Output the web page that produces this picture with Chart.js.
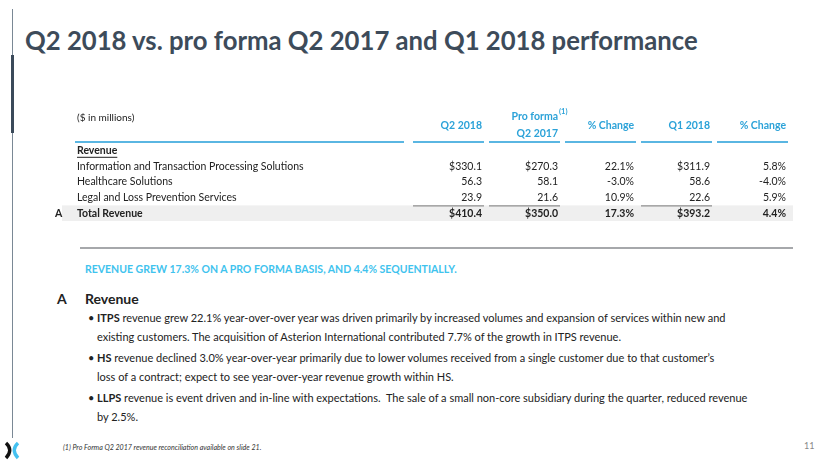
<!DOCTYPE html>
<html lang="en">
<head>
    <meta charset="UTF-8">
    <title>Q2 2018 vs. pro forma Q2 2017 and Q1 2018 performance</title>
    <script src="https://cdn.jsdelivr.net/npm/chart.js"></script>
    <style>
        html, body { margin: 0; padding: 0; background: #fff; }
        body { width: 830px; height: 467px; position: relative; overflow: hidden; font-family: Lato, "Open Sans", sans-serif; color: #222; }
        .abs { position: absolute; white-space: nowrap; }
        #title { left: 25px; top: 25px; font-size: 25.7px; font-weight: bold; color: #3d4b5a; }
        #railThin { left: 12px; top: 9px; width: 1px; height: 429px; background: #7a8895; }
        #railThick { left: 11px; top: 55px; width: 3px; height: 78px; background: #3b4a5a; }
        #sep { left: 80px; top: 247px; width: 713px; height: 2px; background: #a6a8ab; }
        #headline { left: 85px; top: 263px; font-size: 10.5px; font-weight: bold; color: #3fc3ee; }
        #secA { left: 57px; top: 290px; font-size: 14px; font-weight: bold; }
        #secRev { left: 85px; top: 290px; font-size: 14px; font-weight: bold; }
        .ln { left: 97px; font-size: 11px; }
        .dot { left: 88px; font-size: 11px; }
        #foot { left: 63px; top: 443px; font-size: 7.1px; font-style: italic; color: #333; }
        #page { left: 804px; top: 440px; font-size: 9px; color: #888; }
        #tbl { position: absolute; left: 0; top: 100px; }
    </style>
</head>
<body>
    <div id="railThin" class="abs"></div>
    <div id="railThick" class="abs"></div>
    <div id="title" class="abs">Q2 2018 vs. pro forma Q2 2017 and Q1 2018 performance</div>

    <canvas id="tbl" width="830" height="125"></canvas>

    <div id="sep" class="abs"></div>
    <div id="headline" class="abs">REVENUE GREW 17.3% ON A PRO FORMA BASIS, AND 4.4% SEQUENTIALLY.</div>
    <div id="secA" class="abs">A</div>
    <div id="secRev" class="abs">Revenue</div>

    <div class="abs dot" style="top:311px">•</div>
    <div class="abs ln" style="top:311px"><b>ITPS</b> revenue grew 22.1% year-over-over year was driven primarily by increased volumes and expansion of services within new and</div>
    <div class="abs ln" style="top:330px">existing customers. The acquisition of Asterion International contributed 7.7% of the growth in ITPS revenue.</div>
    <div class="abs dot" style="top:351px">•</div>
    <div class="abs ln" style="top:351px"><b>HS</b> revenue declined 3.0% year-over-year primarily due to lower volumes received from a single customer due to that customer’s</div>
    <div class="abs ln" style="top:370px">loss of a contract; expect to see year-over-year revenue growth within HS.</div>
    <div class="abs dot" style="top:391px">•</div>
    <div class="abs ln" style="top:391px"><b>LLPS</b> revenue is event driven and in-line with expectations.&nbsp; The sale of a small non-core subsidiary during the quarter, reduced revenue</div>
    <div class="abs ln" style="top:410px">by 2.5%.</div>

    <svg class="abs" style="left:0;top:437px" width="24" height="26">
        <path d="M6 6 Q13.5 13 6 21" stroke="#111" stroke-width="3.4" fill="none"/>
        <path d="M18 6 Q10.5 13 18 21" stroke="#45c1f0" stroke-width="3.4" fill="none"/>
    </svg>
    <div id="foot" class="abs">(1) Pro Forma Q2 2017 revenue reconciliation available on slide 21.</div>
    <div id="page" class="abs">11</div>

    <script>
        // table data
        const rowLabels = ['Revenue', 'Information and Transaction Processing Solutions', 'Healthcare Solutions', 'Legal and Loss Prevention Services', 'Total Revenue'];
        const columns = ['Q2 2018', 'Pro forma Q2 2017', '% Change', 'Q1 2018', '% Change'];
        const q2_2018 = [null, 330.1, 56.3, 23.9, 410.4];
        const proForma2017 = [null, 270.3, 58.1, 21.6, 350.0];
        const changeYoY = [null, 22.1, -3.0, 10.9, 17.3];
        const q1_2018 = [null, 311.9, 58.6, 22.6, 393.2];
        const changeSeq = [null, 5.8, -4.0, 5.9, 4.4];

        const seriesList = [q2_2018, proForma2017, changeYoY, q1_2018, changeSeq];
        const isPct = [false, false, true, false, true];
        const totalRow = rowLabels.length - 1;

        const BLUE = '#2ba2d8';
        const LINE_BLUE = '#5ab6e2';

        function fmt(v, col, row) {
            if (isPct[col]) return v.toFixed(1) + '%';
            let s = v.toFixed(1);
            if (row === 1 || row === totalRow) s = '$' + s;
            return s;
        }

        const tablePlugin = {
            id: 'tablePlugin',
            beforeDatasetsDraw(chart) {
                const ctx = chart.ctx;
                const x = chart.scales.x, y = chart.scales.y;
                const colW = x.getPixelForValue(1) - x.getPixelForValue(0);
                const rowH = y.getPixelForValue(1) - y.getPixelForValue(0);
                const totTop = y.getPixelForValue(totalRow) - rowH / 2;
                ctx.save();
                // shaded total row
                ctx.fillStyle = '#efefef';
                ctx.fillRect(62, totTop, 731, rowH);
                // subtotal rules above dollar columns
                ctx.strokeStyle = '#777';
                ctx.lineWidth = 1;
                columns.forEach((c, i) => {
                    if (isPct[i]) return;
                    const cx = x.getPixelForValue(i);
                    ctx.beginPath();
                    ctx.moveTo(cx - colW / 2 + 5, totTop + 0.5);
                    ctx.lineTo(cx + colW / 2, totTop + 0.5);
                    ctx.stroke();
                });
                // header underlines
                ctx.strokeStyle = LINE_BLUE;
                ctx.lineWidth = 2;
                const uy = chart.chartArea.top - 1;
                ctx.beginPath();
                ctx.moveTo(75, uy);
                ctx.lineTo(404, uy);
                columns.forEach((c, i) => {
                    const cx = x.getPixelForValue(i);
                    ctx.moveTo(cx - colW / 2 + 5, uy);
                    ctx.lineTo(cx + colW / 2, uy);
                });
                ctx.stroke();
                ctx.restore();
            },
            afterDatasetsDraw(chart) {
                const ctx = chart.ctx;
                const x = chart.scales.x, y = chart.scales.y;
                const colW = x.getPixelForValue(1) - x.getPixelForValue(0);
                ctx.save();
                ctx.textBaseline = 'middle';

                // header
                ctx.fillStyle = '#222';
                ctx.font = '10px Lato';
                ctx.textAlign = 'left';
                ctx.fillText('($ in millions)', 77, 18);
                ctx.fillStyle = BLUE;
                ctx.font = 'bold 10.5px Lato';
                ctx.textAlign = 'right';
                columns.forEach((c, i) => {
                    const rx = x.getPixelForValue(i) + colW / 2 - 2;
                    if (c.startsWith('Pro forma')) {
                        ctx.fillText('Pro forma', rx, 17);
                        ctx.fillText('Q2 2017', rx, 34);
                        ctx.font = 'bold 7.5px Lato';
                        ctx.textAlign = 'left';
                        ctx.fillText('(1)', rx + 1, 12);
                        ctx.font = 'bold 10.5px Lato';
                        ctx.textAlign = 'right';
                    } else {
                        ctx.fillText(c, rx, 26);
                    }
                });

                // row labels
                ctx.fillStyle = '#222';
                ctx.textAlign = 'left';
                rowLabels.forEach((lab, r) => {
                    const py = y.getPixelForValue(r);
                    const bold = r === 0 || r === totalRow;
                    ctx.font = (bold ? 'bold ' : '') + '10.5px Lato';
                    ctx.fillText(lab, 77, py);
                    if (r === 0) {
                        const w = ctx.measureText(lab).width;
                        ctx.fillRect(77, py + 6, w, 1);
                    }
                });
                ctx.font = 'bold 10.5px Lato';
                ctx.fillText('A', 55, y.getPixelForValue(totalRow));

                // cell values at dataset point positions
                ctx.textAlign = 'right';
                chart.data.datasets.forEach((ds, di) => {
                    const meta = chart.getDatasetMeta(di);
                    meta.data.forEach((pt, k) => {
                        const d = ds.data[k];
                        if (d.v === null) return;
                        ctx.font = (d.y === totalRow ? 'bold ' : '') + '10.5px Lato';
                        ctx.fillText(fmt(d.v, di, d.y), pt.x + colW / 2 - 2, pt.y);
                    });
                });
                ctx.restore();
            }
        };

        new Chart(document.getElementById('tbl').getContext('2d'), {
            type: 'scatter',
            data: {
                datasets: seriesList.map((vals, ci) => ({
                    label: columns[ci],
                    data: vals.map((v, ri) => ({ x: ci, y: ri, v: v })),
                    pointRadius: 0,
                    pointHoverRadius: 0
                }))
            },
            options: {
                responsive: false,
                animation: false,
                devicePixelRatio: 1,
                layout: { padding: { left: 408, right: 42, top: 43, bottom: 4 } },
                plugins: { legend: { display: false }, tooltip: { enabled: false } },
                events: [],
                scales: {
                    x: { type: 'category', labels: columns.map((c, i) => i), offset: true, display: false },
                    y: { type: 'category', labels: rowLabels, offset: true, display: false }
                }
            },
            plugins: [tablePlugin]
        });
    </script>
</body>
</html>
